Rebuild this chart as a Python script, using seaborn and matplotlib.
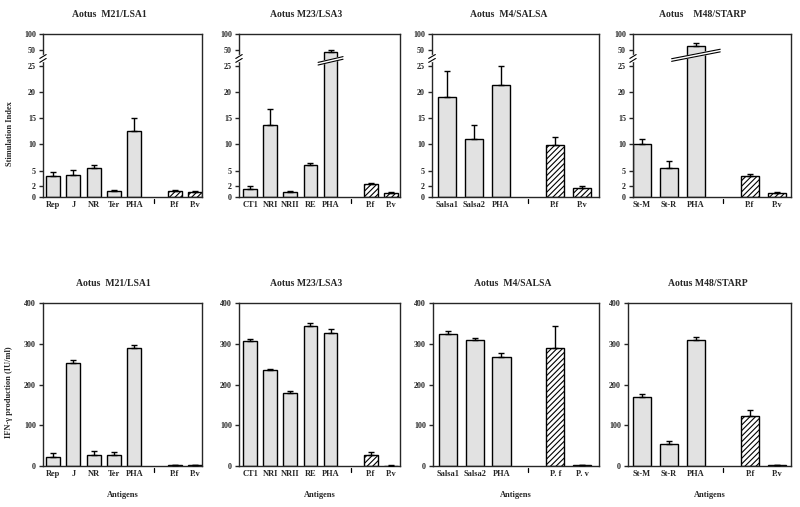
import numpy as np
import pandas as pd
import matplotlib
matplotlib.use("Agg")
import matplotlib.pyplot as plt
import matplotlib.transforms as mtransforms
import seaborn as sns

# ---------------------------------------------------------------
# Data (mean and upper error bar)
# ---------------------------------------------------------------
# top row : stimulation index
m21_labels = ["Rep", "J", "NR", "Ter", "PHA", "P.f", "P.v"]
m21_si = [3.9, 4.1, 5.5, 1.2, 12.6, 1.1, 0.9]
m21_si_err = [0.8, 1.1, 0.5, 0.15, 2.4, 0.2, 0.2]

m23_labels = ["CT1", "NRI", "NRII", "RE", "PHA", "P.f", "P.v"]
m23_si = [1.5, 13.6, 0.9, 6.1, 46, 2.45, 0.8]
m23_si_err = [0.6, 3.1, 0.2, 0.4, 4, 0.2, 0.1]

m4_labels = ["Salsa1", "Salsa2", "PHA", "P.f", "P.v"]
m4_si = [19.1, 11.0, 21.3, 9.8, 1.8]
m4_si_err = [4.9, 2.6, 3.7, 1.7, 0.3]

m48_labels = ["St-M", "St-R", "PHA", "P.f", "P.v"]
m48_si = [10.1, 5.6, 60, 3.9, 0.8]
m48_si_err = [0.9, 1.2, 8, 0.4, 0.2]

# bottom row : IFN-gamma production (IU/ml)
m21_ifn = [23, 252, 28, 26, 289, 1.5, 1.5]
m21_ifn_err = [8, 8, 8, 8, 7, 0.5, 0.5]

m23_ifn = [307, 235, 180, 344, 326, 28, 1]
m23_ifn_err = [5, 3, 3, 8, 10, 6, 0.3]

m4_labels_b = ["Salsa1", "Salsa2", "PHA", "P. f", "P. v"]
m4_ifn = [324, 309, 268, 289, 2]
m4_ifn_err = [7, 6, 9, 55, 0.3]

m48_ifn = [169, 53, 308, 123, 2]
m48_ifn_err = [8, 8, 9, 14, 0.3]

# ---------------------------------------------------------------
sns.set_style("ticks")
plt.rcParams["font.family"] = ["Liberation Serif", "DejaVu Serif"]
plt.rcParams["font.weight"] = "bold"
plt.rcParams["hatch.linewidth"] = 0.8
plt.rcParams["axes.linewidth"] = 1.0

fig = plt.figure(figsize=(8, 5.07), dpi=100)


# broken stimulation index axis: linear up to 25, log2 compressed above
def fwd(y):
    y = np.asarray(y, dtype=float)
    return np.where(y > 25, 25 + 3 * np.log2(np.maximum(y, 25) / 25), y)


def inv(v):
    v = np.asarray(v, dtype=float)
    return np.where(v > 25, 25 * 2 ** ((np.minimum(v, 60) - 25) / 3), v)


def draw_panel(ax, labels, vals, errs, n_ag, title, title_x, xlim):
    order = labels[:n_ag] + [" "] + labels[n_ag:]
    kind = ["antigen"] * n_ag + ["control"] * (len(labels) - n_ag)
    df = pd.DataFrame({"antigen": labels, "value": vals, "kind": kind})
    sns.barplot(data=df, x="antigen", y="value", hue="kind", order=order,
                hue_order=["antigen", "control"],
                palette={"antigen": "#e2e2e2", "control": "white"},
                dodge=False, width=0.68, edgecolor="black", linewidth=1.0,
                errorbar=None, legend=False, ax=ax)
    for bar in ax.containers[1]:
        bar.set_hatch("//////")
    pos = [order.index(l) for l in labels]
    ax.errorbar(pos, vals, yerr=[np.zeros(len(vals)), errs], fmt="none",
                ecolor="black", elinewidth=1.0, capsize=2.5, capthick=1.0,
                zorder=4)
    ax.set_xlim(*xlim)
    gap = order.index(" ")
    ax.set_xticks(range(len(order)))
    ax.set_xticklabels(order)
    ax.tick_params(axis="x", which="major", length=0, labelsize=6, pad=3)
    ax.tick_params(axis="y", direction="out", length=3, width=1,
                   labelsize=5.8, pad=2)
    # small tick marking the empty slot between antigens and controls
    trans = mtransforms.blended_transform_factory(ax.transData, ax.transAxes)
    ax.plot([gap, gap], [-0.012, -0.035], color="black", lw=0.9,
            transform=trans, clip_on=False)
    ax.set_xlabel("")
    ax.set_ylabel("")
    for s in ax.spines.values():
        s.set_visible(True)
        s.set_linewidth(1.0)
    ax.text(title_x, 1.12, title, transform=ax.transAxes, ha="center",
            va="center", fontsize=7, fontweight="bold")


def spine_break(ax, yc):
    ax.plot([0, 0], [yc - 0.012, yc + 0.012], color="white", lw=2.5,
            transform=ax.transAxes, clip_on=False, zorder=6)
    for d in (-0.012, 0.012):
        ax.plot([-0.02, 0.02], [yc + d - 0.012, yc + d + 0.012], color="black",
                lw=0.8, transform=ax.transAxes, clip_on=False, zorder=7)


def bar_break(ax, x, f0, rise, half):
    xs = [x - half, x + half]
    lo = [f0, f0 + rise]
    hi = [f0 + 0.5, f0 + 0.5 + rise]
    ax.fill([xs[0], xs[1], xs[1], xs[0]],
            inv([lo[0], lo[1], hi[1], hi[0]]), color="white", zorder=5)
    ax.plot(xs, inv(lo), color="black", lw=0.8, zorder=6)
    ax.plot(xs, inv(hi), color="black", lw=0.8, zorder=6)


top_boxes = [(43, 202), (239, 400), (432, 599), (633, 791)]
bot_boxes = [(43, 202), (239, 400), (433, 599), (628, 791)]
W, H = 800, 507

top_specs = [
    (m21_labels, m21_si, m21_si_err, 5, "Aotus  M21/LSA1", 0.42, (-0.5, 7.35)),
    (m23_labels, m23_si, m23_si_err, 5, "Aotus M23/LSA3", 0.42, (-0.55, 7.45)),
    (m4_labels, m4_si, m4_si_err, 3, "Aotus  M4/SALSA", 0.46, (-0.55, 5.63)),
    (m48_labels, m48_si, m48_si_err, 3, "Aotus    M48/STARP", 0.44, (-0.33, 5.52)),
]
bot_specs = [
    (m21_labels, m21_ifn, m21_ifn_err, 5, "Aotus  M21/LSA1", 0.44, (-0.5, 7.35)),
    (m23_labels, m23_ifn, m23_ifn_err, 5, "Aotus M23/LSA3", 0.42, (-0.55, 7.45)),
    (m4_labels_b, m4_ifn, m4_ifn_err, 3, "Aotus  M4/SALSA", 0.48, (-0.55, 5.63)),
    (m48_labels, m48_ifn, m48_ifn_err, 3, "Aotus M48/STARP", 0.49, (-0.52, 5.52)),
]

for i, ((x0, x1), spec) in enumerate(zip(top_boxes, top_specs)):
    ax = fig.add_axes([x0 / W, 1 - 197 / H, (x1 - x0) / W, 163 / H])
    ax.set_yscale("function", functions=(fwd, inv))
    draw_panel(ax, *spec)
    ax.set_ylim(0, 100)
    ax.set_yticks([0, 2, 5, 10, 15, 20, 25, 50, 100])
    ax.set_yticklabels(["0", "2", "5", "10", "15", "20", "25", "50", "100"])
    spine_break(ax, 0.85)
    if i == 0:
        ax.set_ylabel("Stimulation Index", fontsize=6, fontweight="bold")
        ax.yaxis.set_label_coords(-0.18, 0.39)

bar_break(fig.axes[1], 4, 25.1, 1.1, 0.62)
bar_break(fig.axes[3], 2, 25.8, 1.8, 0.9)

for i, ((x0, x1), spec) in enumerate(zip(bot_boxes, bot_specs)):
    ax = fig.add_axes([x0 / W, 1 - 466 / H, (x1 - x0) / W, 163 / H])
    draw_panel(ax, *spec)
    ax.set_ylim(0, 400)
    ax.set_yticks([0, 100, 200, 300, 400])
    ax.set_xlabel("Antigens", fontsize=6, fontweight="bold", labelpad=9)
    if i == 0:
        ax.set_ylabel("IFN-\u03b3 production (IU/ml)", fontsize=6,
                      fontweight="bold")
        ax.yaxis.set_label_coords(-0.19, 0.45)

fig.savefig("out.png", dpi=100, facecolor="white")
